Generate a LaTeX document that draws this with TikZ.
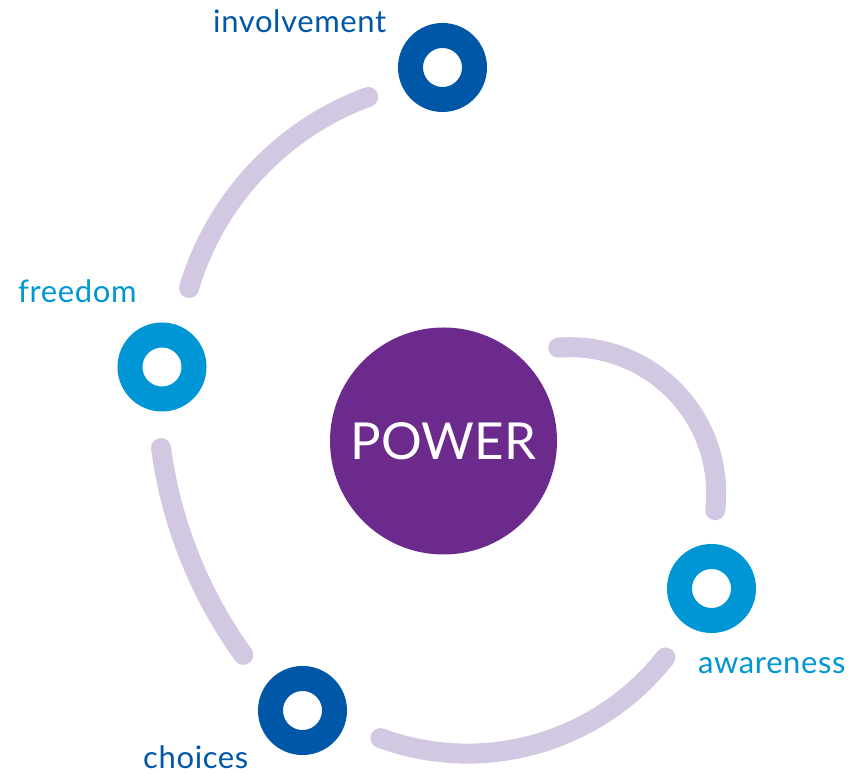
\documentclass[tikz,border=0pt]{standalone}
\usepackage{fontspec}
\setmainfont{Lato}
\newfontfamily\lblfont[LetterSpace=2]{Lato}
\definecolor{ringdark}{RGB}{0,87,168}
\definecolor{ringlight}{RGB}{0,150,214}
\definecolor{powerpurple}{RGB}{108,42,140}
\definecolor{arccol}{RGB}{211,200,226}
\begin{document}
\begin{tikzpicture}[x=1pt,y=1pt,
  ring/.style={circle,draw=#1,line width=25pt,minimum size=64pt,inner sep=0pt},
  lbl/.style={anchor=base west,inner sep=0pt,text=#1,font=\lblfont\fontsize{31}{31}\selectfont},
  link/.style={draw=arccol,line width=20pt,line cap=round}]
\useasboundingbox (0,0) rectangle (861,773);
% centre
\node[circle,fill=powerpurple,minimum size=227pt,inner sep=0pt,text=white,
      font=\fontsize{51}{51}\selectfont] (power) at (443.5,332) {POWER};
% rings
\node[ring=ringdark]  (involvement) at (442.5,705.5) {};
\node[ring=ringlight] (freedom)     at (162,406) {};
\node[ring=ringlight] (awareness)   at (711.5,184.5) {};
\node[ring=ringdark]  (choices)     at (302.5,62.5) {};
% labels
\node[lbl=ringdark]  (tinv) at (213,740) {involvement};
\node[lbl=ringlight] (tfre) at (18,470) {freedom};
\node[lbl=ringlight] (tawa) at (698,99) {awareness};
\node[lbl=ringdark]  (tcho) at (143,5) {choices};
% arcs
\coordinate (c1) at (469,402);
\coordinate (c2) at (614,385.4);
\coordinate (c3) at (467.4,271.4);
\coordinate (c4) at (570.2,279.8);
\path[link] (c1) ++(110.2:292) arc[start angle=110.2,end angle=163.5,radius=292];
\path[link] (c2) ++(187.6:457) arc[start angle=187.6,end angle=215.8,radius=457];
\path[link] (c3) ++(-110.2:252) arc[start angle=-110.2,end angle=-38.2,radius=252];
\path[link] (c4) ++(94.7:146) arc[start angle=94.7,end angle=-6.7,radius=146];
\end{tikzpicture}
\end{document}
